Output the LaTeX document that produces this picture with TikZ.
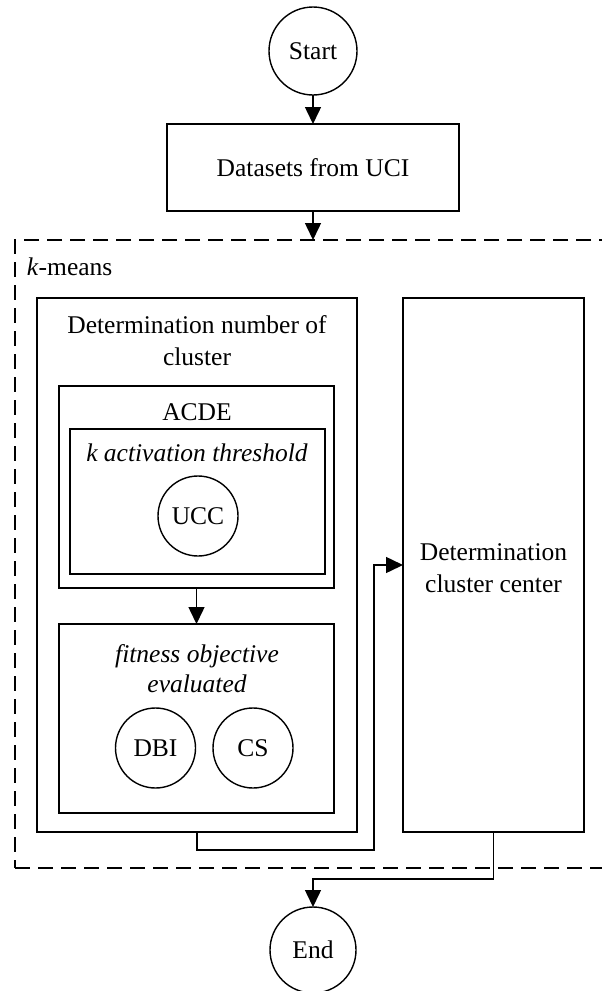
\documentclass[tikz,border=0pt]{standalone}
\usepackage{fontspec}
\setmainfont{Liberation Serif}
\usetikzlibrary{arrows.meta}
\begin{document}
\begin{tikzpicture}[x=1pt,y=-1pt,
  every node/.style={font=\fontsize{25.5}{32}\selectfont, inner sep=0pt, outer sep=0pt},
  boxs/.style={draw, line width=2pt, rectangle},
  circ/.style={draw, line width=1.4pt, circle},
  lbl/.style={align=center},
  conn/.style={line width=1.5pt},
  arr/.style={conn, -{Triangle[width=16pt,length=17pt]}},
  dashbox/.style={draw, line width=2pt, dash pattern=on 15pt off 8pt, rectangle}
]
\useasboundingbox (0,0) rectangle (602,991);
\node[dashbox, minimum width=595pt, minimum height=628pt] (kmeans) at (312.5,554) {};
\node[anchor=west] (kmlbl) at (27,267) {\textit{k}-means};

\node[circ, minimum size=88pt] (start) at (313,51) {Start};
\node[boxs, minimum width=292pt, minimum height=87pt] (data) at (313,167.5) {Datasets from UCI};

\node[boxs, minimum width=320pt, minimum height=534pt] (left) at (197,565) {};
\node[lbl] (leftlbl) at (197,341) {Determination number of\\cluster};

\node[boxs, minimum width=181pt, minimum height=534pt] (right) at (493.5,565) {};
\node[lbl] (rightlbl) at (493.5,568) {Determination\\cluster center};

\node[boxs, line width=2.4pt, minimum width=275pt, minimum height=202pt] (acde) at (196.5,487) {};
\node (acdelbl) at (197,412) {ACDE};
\node[boxs, minimum width=255pt, minimum height=145pt] (kact) at (197.5,501.5) {};
\node (kactlbl) at (197,453) {\textit{k activation threshold}};
\node[circ, minimum size=80pt] (ucc) at (198,516) {UCC};

\node[boxs, line width=2.4pt, minimum width=275pt, minimum height=189pt] (fit) at (196.5,718.5) {};
\node[lbl, font=\fontsize{25.5}{30}\selectfont\itshape] (fitlbl) at (197,669) {fitness objective\\evaluated};
\node[circ, minimum size=80pt] (dbi) at (155.5,748) {DBI};
\node[circ, minimum size=80pt] (cs) at (253,748) {CS};

\node[circ, minimum size=86pt] (end) at (313,950) {End};

\coordinate (j1) at (374,850);
\coordinate (j2) at (313,879);

\draw[arr] (start.south) -- (data.north);
\draw[arr] (data.south) -- (data.south |- kmeans.north);
\draw[arr] (acde.south) -- (fit.north);
\draw[arr] (left.south) |- (j1) |- (right.west);
\draw[arr] (right.south) |- (j2) -- (end.north);
\end{tikzpicture}
\end{document}
